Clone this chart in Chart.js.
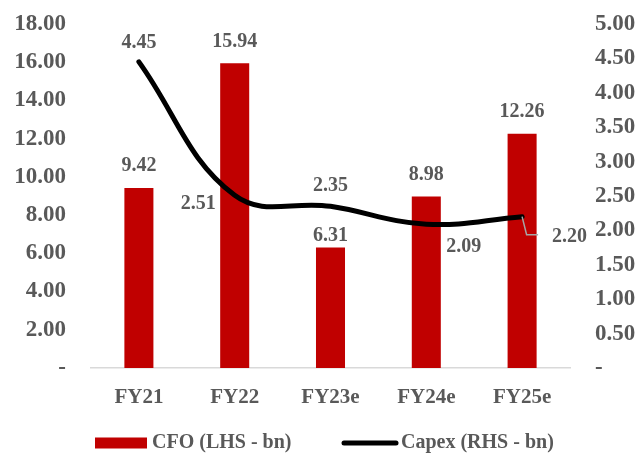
<!DOCTYPE html>
<html>
<head>
<meta charset="utf-8">
<script src="https://cdn.jsdelivr.net/npm/chart.js@4/dist/chart.umd.min.js"></script>
<style>
  html, body { margin: 0; padding: 0; background: #ffffff; }
  #wrap { width: 641px; height: 458px; }
</style>
</head>
<body>
<div id="wrap"><canvas id="c" width="641" height="458"></canvas></div>
<script>
// Fiscal years
const categories = ['FY21', 'FY22', 'FY23e', 'FY24e', 'FY25e'];
// Cash flow from operations (left axis, bn)
const cfoValues = [9.42, 15.94, 6.31, 8.98, 12.26];
// Capital expenditure (right axis, bn)
const capexValues = [4.45, 2.51, 2.35, 2.09, 2.20];
// Axis ranges
const leftAxis = { min: 0, max: 18, step: 2 };
const rightAxis = { min: 0, max: 5, step: 0.5 };

const TEXT = '#595959';
const SERIF = '"Liberation Serif", "DejaVu Serif", serif';
const RED = '#C00000';

// Where each value label sits
const cfoLabelLift = [22, 22, 12, 22, 22];
const capexLabelPlace = [
  { dx: 0,   dy: -19, align: 'center' },
  { dx: -19, dy: 9,   align: 'right' },
  { dx: 0,   dy: -20, align: 'center' },
  { dx: 20,  dy: 23,  align: 'left' },
  { dx: 30,  dy: 20,  align: 'left', leader: true }
];

const fmt = v => v === 0 ? '-' : v.toFixed(2);

const valueLabels = {
  id: 'valueLabels',
  afterDatasetsDraw(chart) {
    const ctx = chart.ctx;
    ctx.save();
    ctx.fillStyle = TEXT;
    ctx.font = 'bold 20px ' + SERIF;
    ctx.textBaseline = 'middle';

    // bar labels
    const barMeta = chart.getDatasetMeta(1);
    barMeta.data.forEach((bar, i) => {
      ctx.textAlign = 'center';
      ctx.fillText(cfoValues[i].toFixed(2), bar.x, bar.y - cfoLabelLift[i]);
    });

    // line labels
    const lineMeta = chart.getDatasetMeta(0);
    lineMeta.data.forEach((pt, i) => {
      const p = capexLabelPlace[i];
      if (p.leader) {
        ctx.strokeStyle = '#A6A6A6';
        ctx.lineWidth = 1.5;
        ctx.beginPath();
        ctx.moveTo(pt.x, pt.y);
        ctx.lineTo(pt.x + 4.5, pt.y + 18);
        ctx.lineTo(pt.x + 16, pt.y + 18);
        ctx.stroke();
      }
      ctx.textAlign = p.align;
      ctx.fillText(capexValues[i].toFixed(2), pt.x + p.dx, pt.y + p.dy);
    });
    ctx.restore();
  }
};

const bottomLegend = {
  id: 'bottomLegend',
  afterDraw(chart) {
    const ctx = chart.ctx;
    const y = 443;
    ctx.save();
    ctx.font = 'bold 20px ' + SERIF;
    ctx.fillStyle = TEXT;
    ctx.textAlign = 'left';
    ctx.textBaseline = 'middle';

    const bar = chart.data.datasets[1];
    ctx.fillStyle = bar.backgroundColor;
    ctx.fillRect(95, y - 5.5, 52, 11);
    ctx.fillStyle = TEXT;
    ctx.fillText(bar.label, 152, y);

    const line = chart.data.datasets[0];
    ctx.strokeStyle = line.borderColor;
    ctx.lineWidth = 5;
    ctx.lineCap = 'round';
    ctx.beginPath();
    ctx.moveTo(344, y);
    ctx.lineTo(396, y);
    ctx.stroke();
    ctx.fillText(line.label, 401, y);
    ctx.restore();
  }
};

// fixed axis widths; no extra room reserved above/below the value axes
const fixAxis = width => s => { s.width = width; s.paddingTop = 0; s.paddingBottom = 0; };

new Chart(document.getElementById('c'), {
  data: {
    labels: categories,
    datasets: [
      {
        type: 'line',
        label: 'Capex (RHS - bn)',
        data: capexValues,
        yAxisID: 'y1',
        borderColor: '#000000',
        borderWidth: 5,
        borderCapStyle: 'round',
        borderJoinStyle: 'round',
        tension: 0.4,
        pointRadius: 0,
        fill: false
      },
      {
        type: 'bar',
        label: 'CFO (LHS - bn)',
        data: cfoValues,
        yAxisID: 'y',
        backgroundColor: RED,
        categoryPercentage: 1,
        barPercentage: 0.303
      }
    ]
  },
  options: {
    responsive: false,
    animation: false,
    layout: { padding: { top: 24, bottom: 0, left: 0, right: 0 } },
    plugins: {
      legend: { display: false },
      tooltip: { enabled: false }
    },
    scales: {
      x: {
        grid: { display: false, drawTicks: false },
        border: { display: true, color: '#D9D9D9', width: 1.5 },
        ticks: { color: TEXT, font: { family: SERIF, size: 21, weight: 'bold' }, padding: 17 },
        afterFit(s) { s.height = 90; }
      },
      y: {
        position: 'left',
        min: leftAxis.min, max: leftAxis.max,
        grid: { display: false, drawTicks: false },
        border: { display: false },
        ticks: {
          stepSize: leftAxis.step,
          color: TEXT,
          font: { family: SERIF, size: 23, weight: 'bold' },
          padding: 25,
          callback: v => fmt(v)
        },
        afterFit: fixAxis(91)
      },
      y1: {
        position: 'right',
        min: rightAxis.min, max: rightAxis.max,
        grid: { display: false, drawTicks: false },
        border: { display: false },
        ticks: {
          stepSize: rightAxis.step,
          color: TEXT,
          font: { family: SERIF, size: 23, weight: 'bold' },
          padding: 25,
          callback: v => fmt(v)
        },
        afterFit: fixAxis(71)
      }
    }
  },
  plugins: [valueLabels, bottomLegend]
});
</script>
</body>
</html>
